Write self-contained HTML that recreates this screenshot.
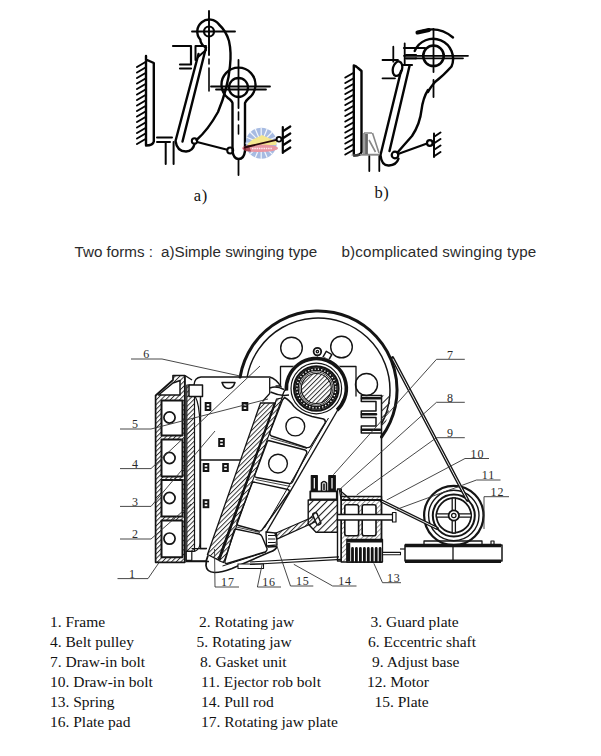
<!DOCTYPE html>
<html><head><meta charset="utf-8">
<style>
html,body{margin:0;padding:0;background:#fff;}
body{width:601px;height:756px;position:relative;overflow:hidden;}
svg{position:absolute;left:0;top:0;}
.cap{position:absolute;font-family:"Liberation Sans",sans-serif;font-size:15.2px;color:#2b2b2b;white-space:pre;line-height:1;}
.lg{position:absolute;font-family:"Liberation Serif",serif;font-size:15.5px;color:#111;white-space:pre;line-height:1;}
</style></head><body>
<svg width="601" height="756" viewBox="0 0 601 756">
<defs>
<pattern id="h5" width="5" height="5" patternUnits="userSpaceOnUse" patternTransform="rotate(45)">
<line x1="0.5" y1="0" x2="0.5" y2="5" stroke="#222" stroke-width="1.1"/></pattern>
<pattern id="h3" width="3.3" height="3.3" patternUnits="userSpaceOnUse" patternTransform="rotate(45)">
<line x1="0.5" y1="0" x2="0.5" y2="3.3" stroke="#222" stroke-width="0.9"/></pattern>
<pattern id="h4" width="3.4" height="3.4" patternUnits="userSpaceOnUse" patternTransform="rotate(45)">
<line x1="0.5" y1="0" x2="0.5" y2="3.4" stroke="#666" stroke-width="0.7"/></pattern>
</defs>

<!-- ============ Diagram a ============ -->
<g fill="none" stroke="#050505" stroke-width="2.4" stroke-linecap="round" stroke-linejoin="round">
  <!-- fixed jaw -->
  <path d="M146,145 V56 M146,59.5 L153.8,63 V141.5 Q153,145.5 146,145.5"/>
  <path d="M145.5,62 l-8.5,5 M145.5,67.5 l-8.5,5 M145.5,73 l-8.5,5 M145.5,78.5 l-8.5,5 M145.5,84 l-8.5,5 M145.5,89.5 l-8.5,5 M145.5,95 l-8.5,5 M145.5,100.5 l-8.5,5 M145.5,106 l-8.5,5 M145.5,111.5 l-8.5,5 M145.5,117 l-8.5,5 M145.5,122.5 l-8.5,5 M145.5,128 l-8.5,5 M145.5,133.5 l-8.5,5 M145.5,139 l-8.5,5" stroke-width="2"/>
  <!-- upper pivot pear -->
  <path d="M205,47 Q200.5,44 200.3,39.5 A12,12 0 1 1 219,24.5 Q226,31 229,41 Q231.5,52 230,66 Q228,88 218,112 Q208,130 196.5,140"/>
  <circle cx="209" cy="31.5" r="5" stroke-width="2.2"/>
  <path d="M192,31.5 H235 M209,11 V55" stroke-width="1.9"/>
  <path d="M209,59 V64 M209,68 V91" stroke-width="1.6"/>
  <!-- bracket -->
  <path d="M173,46 H191 V64.5 H180 M180,68.5 H191" stroke-width="2.2"/>
  <path d="M195.5,46 V60 M195.5,46 H206" stroke-width="2"/>
  <!-- swing jaw bar -->
  <path d="M198.5,54 L175.5,141 Q177,151.5 186,151.5 Q193,151 194.5,144 M206,47.5 L182.5,141.5" />
  <path d="M198,57 L206,50" stroke-width="2"/>
  <!-- lower eccentric & pitman -->
  <path d="M232.5,103 Q232,101 228,98 A17,17 0 1 1 249,98 Q245.5,101 245,103 V151 Q244,159 238.7,159 Q233.5,159 232.5,151 Z"/>
  <circle cx="238.5" cy="87.5" r="9.5" stroke-width="2.3"/>
  <path d="M211,86.5 H270 M216,89.5 H266 M238.5,60 V108" stroke-width="1.8"/>
  <path d="M238.5,112 V120 M238.5,125 V134" stroke-width="1.6"/>
  <path d="M238.5,159 V175" stroke-width="1.8"/>
  <!-- toggle links -->
  <circle cx="194.5" cy="141" r="2.7" stroke-width="2"/>
  <circle cx="230.2" cy="150.5" r="3" stroke-width="2"/>
  <path d="M197,142 L227.3,149.7" stroke-width="2"/>
  <path d="M157,137.5 H172 M157,142 H170 M165.7,142 V164 M173.6,142 V164" stroke-width="2"/>
  <path d="M246,147 L252,145.6" stroke-width="2"/>
  <path d="M282.8,127 V153 M283.3,131 l7,-4.5 M283.3,138 l7,-4.5 M283.3,145 l7,-4.5 M283.3,152 l7,-4.5" stroke-width="2.2"/>
</g>
<!-- logo watermark -->
<g opacity="0.85">
  <circle cx="261.2" cy="143.2" r="15.5" fill="#98b0de"/>
  <g stroke="#f2f6fc" stroke-width="1.2">
    <line x1="261.2" y1="127.5" x2="261.2" y2="159"/><line x1="245.5" y1="143.2" x2="277" y2="143.2"/>
    <line x1="250" y1="132" x2="272.4" y2="154.4"/><line x1="272.4" y1="132" x2="250" y2="154.4"/>
    <line x1="255.2" y1="128.7" x2="267.2" y2="157.7"/><line x1="267.2" y1="128.7" x2="255.2" y2="157.7"/>
    <line x1="246.7" y1="137.2" x2="275.7" y2="149.2"/><line x1="246.7" y1="149.2" x2="275.7" y2="137.2"/>
  </g>
  <path d="M247,145 Q252,139 255,138.5 L262,135 Q270,139 277,141 L276,145 Z" fill="#f3e37c"/>
  <ellipse cx="260" cy="148.3" rx="18" ry="3.8" fill="#e58594"/>
  <path d="M243,148.5 Q244,145.5 249,145.5 L251,151.5 Q244,152 243,148.5 Z" fill="#9c2f3e"/>
  <path d="M252,148.5 H272" stroke="#fbe9ee" stroke-width="1.3" stroke-dasharray="1.5 0.8"/>
</g>
<path d="M244,147.5 L276.5,139.8" stroke="#2a0a0a" stroke-width="1.9"/>
<circle cx="279" cy="139.2" r="2.4" fill="none" stroke="#050505" stroke-width="1.8"/>

<!-- ============ Diagram b ============ -->
<g fill="none" stroke="#050505" stroke-width="2.4" stroke-linecap="round" stroke-linejoin="round">
  <path d="M353.8,154 V65.5 Q356,66 358,68 L361.5,71 V152 Q361,155.5 354,155.5"/>
  <path d="M353.3,73 l-8,4.5 M353.3,78.5 l-8,4.5 M353.3,84 l-8,4.5 M353.3,89.5 l-8,4.5 M353.3,95 l-8,4.5 M353.3,100.5 l-8,4.5 M353.3,106 l-8,4.5 M353.3,111.5 l-8,4.5 M353.3,117 l-8,4.5 M353.3,122.5 l-8,4.5 M353.3,128 l-8,4.5 M353.3,133.5 l-8,4.5 M353.3,139 l-8,4.5 M353.3,144.5 l-8,4.5 M353.3,150 l-8,4.5" stroke-width="2"/>
  <!-- top pivot -->
  <circle cx="433.5" cy="55.8" r="10.3" stroke-width="2.5"/>
  <path d="M414.7,51 A19.5,19.5 0 1 1 451.5,66.5 Q443,76 435,82 Q430,88 428,92"/>
  <path d="M417,33 Q437,24 453,37.5" stroke-width="2.4"/>
  <path d="M417.5,32.5 L429,30" stroke-width="4"/>
  <path d="M404,55.8 H468 M416,58.3 H463 M433.5,29 V72 M433.5,80 V97" stroke-width="1.8"/>
  <path d="M382.5,60 H398 M382.5,78.3 H395 M393.3,46.7 V61.7 M404.7,43.3 V65" stroke-width="1.8"/>
  <path d="M404,48 H425 M404,65 H412 M406,55 H416 M406,58.3 H416" stroke-width="2.2"/>
  <ellipse cx="397.5" cy="68.7" rx="4.6" ry="7.4" transform="rotate(15 397.5 68.7)" stroke-width="2.3"/>
  <!-- bar -->
  <path d="M401,71 L380.5,155 Q381.5,166 389,165.5 Q396.5,165 398.5,158.6 M409.5,66 L389.5,151"/>
  <path d="M404,65 H410" stroke-width="2"/>
  <!-- body curve -->
  <path d="M428,90 Q423,98 421.5,110 Q420,124 412,136 Q404,145 397.5,152.5"/>
  <circle cx="395" cy="155" r="3.3" stroke-width="2.2"/>
  <path d="M398,154 L427,143.5" stroke-width="2.2"/>
  <circle cx="429.8" cy="143" r="2.8" stroke-width="2.2"/>
  <path d="M434,133.5 V157 M434.5,136.5 l6,-4 M434.5,143 l6,-4 M434.5,149.5 l6,-4 M434.5,156 l6,-4" stroke-width="2"/>
  <path d="M369.3,156 V171 M379.3,156 V171" stroke-width="1.8"/>
  <path d="M352,155 H379" stroke-width="1.2" stroke="#777"/>
</g>
<g fill="none" stroke="#888" stroke-width="1.6">
<path d="M364,133 H372 M364,133 V154 M372.5,133 L379,153 M369,140 L375.5,152 M360,154.5 H379"/>
<path d="M366.5,134 V154" stroke="#666" stroke-width="2.8"/>
</g>

<text x="193.8" y="201.3" font-family="Liberation Serif, serif" font-size="16.5" letter-spacing="0.6" fill="#111">a)</text>
<text x="374.5" y="198.2" font-family="Liberation Serif, serif" font-size="16.5" letter-spacing="0.6" fill="#111">b)</text>

<!-- ============ Big diagram ============ -->
<g fill="none" stroke="#141414" stroke-width="1.3" stroke-linejoin="round" stroke-linecap="round">
<path d="M240.1,377.0 A79.0,79.0 0 1 1 381.5,437.0" stroke-width="3"/>
<path d="M247.3,376.3 A72.0,72.0 0 1 1 381.5,423.9" stroke-width="1.5"/>
<circle cx="291.5" cy="348.0" r="10.8" stroke-width="1.4"/>
<circle cx="341.5" cy="347.0" r="10.8" stroke-width="1.4"/>
<circle cx="366.5" cy="384.5" r="11.0" stroke-width="1.4"/>
<path d="M280.5,386 V366.5 H356 V396"/>
<path d="M280.5,386 H276"/>
<circle cx="317.4" cy="351.6" r="3.8" stroke-width="1.8"/><circle cx="317.4" cy="351.6" r="1.2"/><path d="M317.4,355.4 V358"/>
<rect x="324.2" y="352.5" width="6.4" height="6.6" fill="#fff" stroke-width="1.5" transform="rotate(30 327.4 355.8)"/>
<path d="M381.5,395.5 H361.3 V401.5 H376 V411 H361.3 V417.5 H376 V426 H361.3 V433 H381.5" stroke-width="1.5"/>
<path d="M362,398.3 H380 M362,414.2 H376 M362,429.7 H380" stroke-width="2.6"/>
<path d="M381.5,395.5 V562" stroke-width="1.5"/>
</g>
<path d="M381.5,395.5 L390.5,395.5 Q390,418 381.5,431 Z" fill="url(#h5)" stroke="none"/>
<circle cx="316.3" cy="388.5" r="32" fill="#fff" stroke="none"/>
<circle cx="316.3" cy="388.5" r="15" fill="url(#h3)" stroke="#141414" stroke-width="1.2"/>
<g fill="none" stroke="#141414">
<circle cx="316.3" cy="388.5" r="16.6" stroke-width="0.9"/>
<circle cx="316.3" cy="388.5" r="19.4" stroke-width="3.8"/>
<circle cx="316.3" cy="388.5" r="19.4" stroke="#fff" stroke-width="1.4" stroke-dasharray="1.3 2"/>
<circle cx="316.3" cy="388.5" r="22.2" stroke-width="2.2"/>
<circle cx="316.3" cy="388.5" r="25.3" stroke-width="1.2"/>
<path d="M286.4,390.6 A30.0,30.0 0 1 1 337.1,410.1" stroke-width="3.6"/>
</g>
<path d="M260.5,403.0 L275.0,403.0 L218.5,560.0 L207.5,554.5 Z" fill="url(#h3)" stroke="#141414" stroke-width="1.3"/>
<path d="M276.5,399.0 L282.0,398.0 L223.6,562.6 L219.5,561.0 Z" fill="url(#h3)" stroke="#141414" stroke-width="1.1"/>
<path d="M275,403 L218.5,560" stroke="#141414" stroke-width="2.2"/>
<g fill="none" stroke="#141414" stroke-width="1.4" stroke-linejoin="round">
<path d="M338.9,408.0 L266.6,532.0"/>
<path d="M328.5,418.0 L264.4,528.0" stroke-width="1"/>
<path d="M338.9,408 Q342,402 344,398" />
<path d="M282,398 Q283,392 286,389" />
<path d="M284.5,397.5 Q289.5,400 294,406.5 Q300,413 312,416.5 L323.5,419 Q326,420 325,423 L310.5,446.5 Q309,448 306,447.5 L271.5,436 Q269,435 270,432 L282.5,400 Z"/>
<path d="M268.5,440.5 L305,450 Q307.5,451 306.5,453.5 L292.5,482 Q291.5,484 289,483.5 L256.5,477.5 Q254,477 255,474.5 L267,442.5 Q267.5,440.5 268.5,440.5 Z"/>
<path d="M253.5,482 L288,489.5 Q290,490.5 289,492.5 L262,530 Q260.5,531.5 258.5,531 L238.5,525.5 Q236.5,525 237,522.5 L252,483.5 Q252.5,482 253.5,482 Z"/>
<path d="M235.5,529 L259,534 Q261,534.5 262,536.5 L267,548.5 Q267.5,551 265,552 L227,563.5 Q224.5,564 225,561 L234,530.5 Q234.5,529 235.5,529 Z"/>
<circle cx="295.3" cy="426.5" r="9.4" stroke-width="1.4"/>
<circle cx="278" cy="463.6" r="9.4" stroke-width="1.4"/>
<path d="M270.5,438 L307,448.5 M255.5,479.5 L290.5,486.5 M236.5,527 L260,532.5" stroke-width="0.8"/>
<path d="M266.6,532 L268,547 L277,546.5" />
<path d="M277,546.5 Q276,550 270,552 L232,568.5 Q222,572.5 214.5,572.5 Q206.5,572 206,565.5 Q206,559.5 208,555.5" stroke-width="1.7"/>
<path d="M222.5,566 L266,552" stroke-width="1"/>
</g>
<path d="M266,532 L276.5,533 L277,545 L266.5,546 Z" fill="#fff" stroke="#141414" stroke-width="1.3"/>
<path d="M268,535.5 H275 M268,539 H275.5 M268,542.5 H275.5" stroke="#141414" stroke-width="1.2"/>
<path d="M275,533.5 L314,516.5 L316,521.5 L277,539 Z" fill="url(#h3)" stroke="#141414" stroke-width="1.3"/>
<rect x="-2.2" y="-6.3" width="4.4" height="12.6" rx="1.8" fill="#fff" stroke="#141414" stroke-width="1.5" transform="translate(316.8 518.8) rotate(-23.3)"/>
<path d="M186,561.5 H209 M200,548.5 H207" stroke="#141414" stroke-width="1.4" fill="none"/>
<path d="M238,564 H263.5 V568.5 H238 Z" fill="#fff" stroke="#141414" stroke-width="1.1"/>
<g stroke="#141414" stroke-linejoin="round">
<path d="M155.6,562.3 V395.5 L173,380 V375.5 H184.8 V562.3 Z" fill="url(#h3)" stroke-width="1.7"/>
<path d="M158.5,395 L173,383 L180,380.5 V395 Z" fill="#fff" stroke-width="1.5"/>
<rect x="161.5" y="400.5" width="21" height="35.0" fill="#fff" stroke-width="2"/>
<circle cx="169.5" cy="417.5" r="5.6" fill="none" stroke-width="1.7"/>
<rect x="161.5" y="439.5" width="21" height="37.0" fill="#fff" stroke-width="2"/>
<circle cx="169.5" cy="458.0" r="5.6" fill="none" stroke-width="1.7"/>
<rect x="161.5" y="480.0" width="21" height="36.5" fill="#fff" stroke-width="2"/>
<circle cx="169.5" cy="498.0" r="5.6" fill="none" stroke-width="1.7"/>
<rect x="161.5" y="520.5" width="21" height="36.8" fill="#fff" stroke-width="2"/>
<circle cx="169.5" cy="538.6" r="5.6" fill="none" stroke-width="1.7"/>
<path d="M184.8,376 V562.3" stroke-width="1.5"/>
<path d="M186.8,385 H194.5 V551.3 H186.8 Z" fill="url(#h3)" stroke-width="1.2"/>
<path d="M195,396 Q199.5,404 200,425 V543 Q200,549 195,551.3" fill="none" stroke-width="1.2"/>
<rect x="189" y="385" width="13.5" height="11.5" fill="#fff" stroke-width="1.5"/>
<rect x="186.3" y="551.3" width="5.5" height="9" fill="#fff" stroke-width="1.2"/>
<path d="M191.6,548.6 H206 M186,560.8 H206" fill="none" stroke-width="1.2"/>
<path d="M185,375.5 L192,380" fill="none" stroke-width="1.4"/>
</g>
<g fill="none" stroke="#141414" stroke-width="1.4" stroke-linejoin="round">
<path d="M200.5,548 V396.5 M194,385 Q194.5,377.5 201,377 H269.7 Q276,378.5 281.5,387.5"/>
<path d="M269.7,378 V393.5 L262.5,401.5" stroke-width="1.3"/>
<path d="M270,388 Q276,385.5 284,389.5 M270.5,392 Q277,395 284,395.5 L289,395" stroke-width="1.4"/>
<path d="M200.5,460 H240.5" />
<path d="M222,382.5 H235 Q233,388.5 228.5,388.5 Q224,388.5 222,382.5 Z" stroke-width="1.5"/>
</g>
<rect x="205.7" y="403.0" width="4.6" height="7" fill="none" stroke="#141414" stroke-width="2"/><path d="M205.7,406.5 H210.3" stroke="#141414" stroke-width="1.6"/>
<rect x="242.7" y="403.0" width="4.6" height="7" fill="none" stroke="#141414" stroke-width="2"/><path d="M242.7,406.5 H247.3" stroke="#141414" stroke-width="1.6"/>
<rect x="219.2" y="439.0" width="4.6" height="7" fill="none" stroke="#141414" stroke-width="2"/><path d="M219.2,442.5 H223.8" stroke="#141414" stroke-width="1.6"/>
<rect x="203.7" y="464.0" width="4.6" height="7" fill="none" stroke="#141414" stroke-width="2"/><path d="M203.7,467.5 H208.3" stroke="#141414" stroke-width="1.6"/>
<rect x="223.2" y="464.0" width="4.6" height="7" fill="none" stroke="#141414" stroke-width="2"/><path d="M223.2,467.5 H227.8" stroke="#141414" stroke-width="1.6"/>
<rect x="203.7" y="500.2" width="4.6" height="7" fill="none" stroke="#141414" stroke-width="2"/><path d="M203.7,503.7 H208.3" stroke="#141414" stroke-width="1.6"/>
<g stroke="#141414" stroke-linejoin="round">
<rect x="311.3" y="475.5" width="6" height="15.5" fill="#111" stroke-width="1.2"/>
<rect x="328.8" y="475.5" width="6.5" height="15.5" fill="#111" stroke-width="1.2"/>
<path d="M314.3,478 V488.5 M332,478 V488.5" stroke="#fff" stroke-width="1.2"/>
<path d="M321.5,491 V483 Q324,480 326.5,483 V491 M324,483.5 V490" fill="none" stroke-width="1.6"/>
<rect x="310.3" y="491.3" width="26.5" height="8.2" fill="#fafafa" stroke-width="1.8"/>
<path d="M308.2,500 H337.5 V532.2 H316 L308.2,524 Z" fill="url(#h5)" stroke-width="1.4"/>
<rect x="337.5" y="489" width="3.8" height="72" fill="#fff" stroke-width="1.4"/>
<path d="M339.4,490 L351.2,500 H341.2 Z" fill="url(#h4)" stroke-width="1.2"/>
<rect x="341.2" y="496.5" width="40.3" height="65.5" fill="url(#h4)" stroke-width="1.4"/>
<path d="M341.2,500 H381.5" stroke-width="1.8"/>
<rect x="344.8" y="504.8" width="13.8" height="31" rx="2" fill="#fff" stroke-width="1.6"/>
<rect x="362.2" y="504.8" width="13.8" height="31" rx="2" fill="#fff" stroke-width="1.6"/>
<rect x="337.5" y="514.5" width="57.7" height="5.5" fill="#fff" stroke-width="1.3"/>
<rect x="392.5" y="512.5" width="3.5" height="9.5" fill="#fff" stroke-width="1.2"/>
<rect x="346.8" y="539.5" width="35.7" height="22.5" fill="#fff" stroke-width="1.3"/>
<path d="M347,541 H382" stroke-width="3"/>
<path d="M352.5,548.5 V561.5 M356.4,548.5 V561.5 M360.4,548.5 V561.5 M364.4,548.5 V561.5 M368.3,548.5 V561.5 M372.2,548.5 V561.5 M376.2,548.5 V561.5 M380.1,548.5 V561.5" stroke-width="2.8" stroke-linecap="round"/>
<path d="M348.5,543 V561.5" stroke-width="3.5"/>
<rect x="382.5" y="552.4" width="18" height="2.4" fill="#fff" stroke-width="1.1"/>
<path d="M250,564.5 L341.4,559.3 M250,562 L339,556.8" fill="none" stroke-width="1.2"/>
</g>
<g fill="none" stroke="#141414" stroke-linejoin="round">
<circle cx="453.8" cy="515.5" r="29.7" fill="#fff" stroke-width="2.2"/>
<circle cx="453.8" cy="515.5" r="25.2" stroke-width="1.4"/>
<circle cx="453.8" cy="515.5" r="21" stroke-width="2"/>
<circle cx="453.8" cy="515.5" r="17.3" stroke-width="1.8"/>
<rect x="4.5" y="-1.6" width="13" height="3.2" fill="#fff" stroke-width="1.3" transform="translate(453.8 515.5) rotate(0)"/>
<rect x="4.5" y="-1.6" width="13" height="3.2" fill="#fff" stroke-width="1.3" transform="translate(453.8 515.5) rotate(90)"/>
<rect x="4.5" y="-1.6" width="13" height="3.2" fill="#fff" stroke-width="1.3" transform="translate(453.8 515.5) rotate(180)"/>
<rect x="4.5" y="-1.6" width="13" height="3.2" fill="#fff" stroke-width="1.3" transform="translate(453.8 515.5) rotate(270)"/>
<circle cx="453.8" cy="515.5" r="5.2" fill="#fff" stroke-width="1.8"/>
<circle cx="453.8" cy="515.5" r="2.2" stroke-width="1.2"/>
<rect x="405" y="545" width="97" height="16" stroke-width="1.5"/>
<path d="M405,545.5 H501 M405,561.3 H501" stroke-width="3.4"/>
<path d="M453,545 V561" stroke-width="1.3"/>
<path d="M424,545 V541 H482 V545" stroke-width="1.3"/>
<path d="M491,545 V541 H494 V545" stroke-width="1.2"/>
<path d="M400,549 H405" stroke-width="1.2"/>
</g>
<g fill="none" stroke="#141414" stroke-linecap="round">
<path d="M392.5,358 L467.5,500" stroke-width="3.6"/>
<path d="M381.5,501 L437,528.3" stroke-width="3.4"/>
<path d="M393,359 L467,499" stroke="#fff" stroke-width="0.9"/>
<path d="M382.5,501.5 L436,527.8" stroke="#fff" stroke-width="0.9"/>
</g>
<g fill="none" stroke="#333" stroke-width="0.9">
<path d="M131.0,359.0 L162.0,359.0 L240.0,376.0"/>
<path d="M120.0,429.0 L151.0,429.0 L268.0,399.0"/>
<path d="M120.0,468.6 L151.0,468.6 L260.0,366.0"/>
<path d="M120.0,506.4 L151.0,506.4 L215.0,431.0"/>
<path d="M120.0,539.0 L151.0,539.0 L191.0,504.0"/>
<path d="M117.5,578.6 L148.0,578.6 L159.0,562.6"/>
<path d="M464.8,359.3 L436.5,359.3 L333.3,474.8"/>
<path d="M464.8,402.3 L436.5,402.3 L339.0,490.0"/>
<path d="M464.8,437.7 L436.5,437.7 L356.7,495.0"/>
<path d="M489.0,458.5 L465.0,458.5 L386.7,500.0"/>
<path d="M500.5,480.0 L476.5,480.0 L395.0,510.0"/>
<path d="M509.0,496.7 L484.0,496.7 L484.0,529.0"/>
<path d="M239.0,587.0 L215.0,587.0 L214.5,549.0"/>
<path d="M281.0,587.0 L257.4,587.0 L262.0,565.0"/>
<path d="M313.3,586.0 L290.5,586.0 L275.4,541.6"/>
<path d="M356.5,586.0 L332.7,586.0 L293.8,564.3"/>
<path d="M401.0,582.7 L382.5,582.7 L373.8,563.3"/>
</g>
<g font-family="Liberation Serif, serif" font-size="12" fill="#2a2a2a" text-anchor="middle" letter-spacing="0.8">
<text x="146.6" y="358.2">6</text>
<text x="135.4" y="428.2">5</text>
<text x="135.4" y="467.8">4</text>
<text x="135.4" y="505.6">3</text>
<text x="135.4" y="538.2">2</text>
<text x="132.4" y="577.8">1</text>
<text x="450.4" y="358.5">7</text>
<text x="450.4" y="401.5">8</text>
<text x="450.4" y="436.9">9</text>
<text x="477.4" y="457.7">10</text>
<text x="488.4" y="479.2">11</text>
<text x="497.4" y="495.9">12</text>
<text x="227.9" y="586.2">17</text>
<text x="269.0" y="586.2">16</text>
<text x="302.8" y="585.2">15</text>
<text x="345.0" y="585.2">14</text>
<text x="393.7" y="581.9">13</text>
</g>
</svg>

<div class="cap" style="left:74.5px;top:243.5px;">Two forms :</div>
<div class="cap" style="left:161px;top:243.5px;">a)Simple swinging type</div>
<div class="cap" style="left:341.5px;top:243.5px;letter-spacing:0.15px;">b)complicated swinging type</div>

<div class="lg" style="left:50px;top:614px;">1. Frame</div>
<div class="lg" style="left:199px;top:614px;">2. Rotating jaw</div>
<div class="lg" style="left:370.5px;top:614px;">3. Guard plate</div>
<div class="lg" style="left:50px;top:634px;">4. Belt pulley</div>
<div class="lg" style="left:196.5px;top:634px;">5. Rotating jaw</div>
<div class="lg" style="left:368px;top:634px;">6. Eccentric shaft</div>
<div class="lg" style="left:50px;top:654px;">7. Draw-in bolt</div>
<div class="lg" style="left:200px;top:654px;">8. Gasket unit</div>
<div class="lg" style="left:372px;top:654px;">9. Adjust base</div>
<div class="lg" style="left:50px;top:674px;">10. Draw-in bolt</div>
<div class="lg" style="left:201px;top:674px;">11. Ejector rob bolt</div>
<div class="lg" style="left:367px;top:674px;">12. Motor</div>
<div class="lg" style="left:50px;top:694px;">13. Spring</div>
<div class="lg" style="left:201px;top:694px;">14. Pull rod</div>
<div class="lg" style="left:374.5px;top:694px;">15. Plate</div>
<div class="lg" style="left:50px;top:714px;">16. Plate pad</div>
<div class="lg" style="left:201px;top:714px;">17. Rotating jaw plate</div>
</body></html>
